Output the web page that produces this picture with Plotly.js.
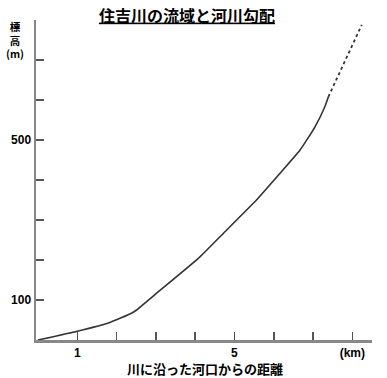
<!DOCTYPE html>
<html><head><meta charset="utf-8">
<script src="https://cdn.plot.ly/plotly-3.0.1.min.js"></script>
<style>body{margin:0;background:#fff}#c{width:387px;height:378px}</style>
</head><body><div id="c"></div>
<script>
// distance along river from mouth (km) and elevation (m)
var distSolid = [0, 1.0, 1.83, 2.38, 2.51, 3.02, 4.08, 4.72, 5.56, 6.16, 6.67, 7.05, 7.30, 7.39];
var elevSolid = [0, 22, 44, 67, 75, 117, 204, 267, 350, 417, 475, 533, 583, 608];
var distDashed = [7.39, 8.24];
var elevDashed = [608, 788];
var xTickVals = [1, 2, 3, 4, 5, 6, 7, 8];
var xTickText = ["1", "", "", "", "5", "", "", "(km)"];
var yTickVals = [100, 200, 300, 400, 500, 600, 700];
var yTickText = ["100", "", "", "", "500", "", ""];
var titleText = "住吉川の流域と河川勾配";
var yTitle = "標<br>高<br>(m)";
var xTitle = "川に沿った河口からの距離";

var FONT = "Liberation Sans, Noto Sans CJK JP, sans-serif";
var JP = "Noto Sans CJK JP, sans-serif";
var traces = [
  {x: distSolid, y: elevSolid, mode: "lines", line: {color: "#333", width: 1.6, shape: "spline", smoothing: 0.4}, hoverinfo: "skip"},
  {x: distDashed, y: elevDashed, mode: "lines", line: {color: "#333", width: 1.8, dash: "3px,3px"}, hoverinfo: "skip"}
];
var layout = {
  width: 387, height: 378,
  margin: {l: 36, r: 15, t: 20, b: 38},
  paper_bgcolor: "#fff", plot_bgcolor: "#fff",
  showlegend: false,
  title: {text: "<u>" + titleText + "</u>", x: 187/387, xref: "container", xanchor: "center",
          y: 1 - 16/378, yref: "container", yanchor: "middle",
          font: {family: JP, size: 16, color: "#000", weight: "bold"}},
  xaxis: {range: [-0.05, 8.5], showgrid: false, zeroline: false, showline: true,
          linecolor: "#888", linewidth: 2.5, ticks: "inside", ticklen: 8, tickwidth: 1.5,
          tickcolor: "#555", tickvals: xTickVals, ticktext: xTickText,
          tickfont: {family: FONT, size: 12, color: "#000", weight: "bold"}, fixedrange: true},
  yaxis: {range: [0, 800], showgrid: false, zeroline: false, showline: true,
          linecolor: "#888", linewidth: 2.5, ticks: "inside", ticklen: 8, tickwidth: 1.5,
          tickcolor: "#555", tickvals: yTickVals, ticktext: yTickText,
          tickfont: {family: FONT, size: 12, color: "#000", weight: "bold"}, fixedrange: true},
  annotations: [
    {text: yTitle, xref: "paper", yref: "paper", x: (15-36)/336, y: (340-40)/320, showarrow: false,
     xanchor: "center", yanchor: "middle", align: "center",
     font: {family: JP, size: 10.5, color: "#000", weight: "bold"}},
    {text: xTitle, xref: "paper", yref: "paper", x: (205-36)/336, y: (340-368)/320, showarrow: false,
     xanchor: "center", yanchor: "middle", font: {family: JP, size: 13, color: "#000", weight: "bold"}}
  ]
};
Plotly.newPlot("c", traces, layout, {staticPlot: true, displayModeBar: false});
</script></body></html>
